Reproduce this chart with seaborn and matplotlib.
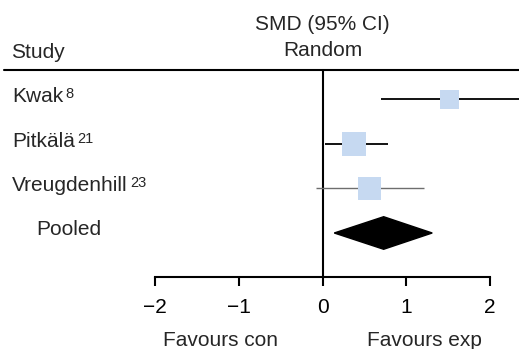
import numpy as np
import pandas as pd
import matplotlib.pyplot as plt
import seaborn as sns
from matplotlib.patches import Polygon

# study-level results
studies = ["Kwak", "Pitkälä", "Vreugdenhill"]
refs = ["8", "21", "23"]
smd = [1.52, 0.38, 0.56]
ci_low = [0.70, 0.03, -0.08]
ci_high = [2.60, 0.78, 1.21]
weights = [23.5, 38.7, 37.8]

pooled_label = "Pooled"
pooled_smd = 0.73
pooled_low = 0.14
pooled_high = 1.31

xticks = [-2, -1, 0, 1, 2]

sns.set_style("white")
plt.rcParams["font.family"] = ["Liberation Sans", "DejaVu Sans"]

df = pd.DataFrame({"study": studies, "smd": smd, "lo": ci_low, "hi": ci_high,
                   "weight": weights})
df["row"] = np.arange(len(df))
pooled_row = len(df)
axis_row = pooled_row + 1

fig = plt.figure(figsize=(5.19, 3.49), dpi=100)
ax = fig.add_axes([0, 0, 1, 1])
ax.set_xlim(-3.851, 2.346)
ax.set_ylim(5.607, -2.236)

# confidence intervals
line_styles = [("black", 1.3), ("black", 1.3), ("#6e6e6e", 1.0)]
for (_, r), (col, lw) in zip(df.iterrows(), line_styles):
    ax.plot([r["lo"], r["hi"]], [r["row"], r["row"]], color=col, lw=lw,
            solid_capstyle="butt", zorder=2)

# weighted squares
sns.scatterplot(data=df, x="smd", y="row", size="weight", size_norm=(0, 40),
                sizes=(0, 309), marker="s", color="#c6d9f1", linewidth=0,
                legend=False, ax=ax, zorder=3)

# pooled diamond
h = 0.366
ax.add_patch(Polygon([(pooled_low, pooled_row), (pooled_smd, pooled_row - h),
                      (pooled_high, pooled_row), (pooled_smd, pooled_row + h)],
                     closed=True, color="black", zorder=3))

# zero line and header rule
ax.plot([0, 0], [-0.663, axis_row], color="black", lw=1.5, zorder=1)
ax.plot([-3.80, 2.346], [-0.663, -0.663], color="black", lw=1.5)

# x axis
for s in ["left", "right", "top"]:
    ax.spines[s].set_visible(False)
ax.spines["bottom"].set_position(("data", axis_row))
ax.spines["bottom"].set_bounds(-2, 2)
ax.spines["bottom"].set_linewidth(1.5)
ax.spines["bottom"].set_color("black")
ax.set_xticks(xticks)
ax.set_xticklabels([f"{t:d}".replace("-", "\u2212") for t in xticks])
ax.tick_params(axis="x", direction="out", length=6.5, width=1.5, pad=8,
               labelsize=15, colors="black", bottom=True)
ax.set_yticks([])
ax.set_xlabel("")
ax.set_ylabel("")

fs = 15
# headers
ax.text(-3.72, -0.93, "Study", fontsize=fs, va="baseline", ha="left")
ax.text(0, -1.56, "SMD (95% CI)", fontsize=fs, va="baseline", ha="center")
ax.text(0, -0.98, "Random", fontsize=fs, va="baseline", ha="center")

# study labels with superscript references
for i, (name, ref) in enumerate(zip(studies, refs)):
    t = ax.text(-3.71, i + 0.06, name, fontsize=fs, va="baseline", ha="left")
    ax.annotate(ref, xy=(1, 1), xycoords=t, xytext=(2, 0),
                textcoords="offset points", fontsize=10.5, va="top", ha="left")
ax.text(-3.42, pooled_row + 0.05, pooled_label, fontsize=fs, va="baseline",
        ha="left")

# direction labels
ax.text(-1.22, 5.55, "Favours con", fontsize=fs, va="baseline", ha="center")
ax.text(1.22, 5.55, "Favours exp", fontsize=fs, va="baseline", ha="center")

fig.savefig("out.png", dpi=100)
